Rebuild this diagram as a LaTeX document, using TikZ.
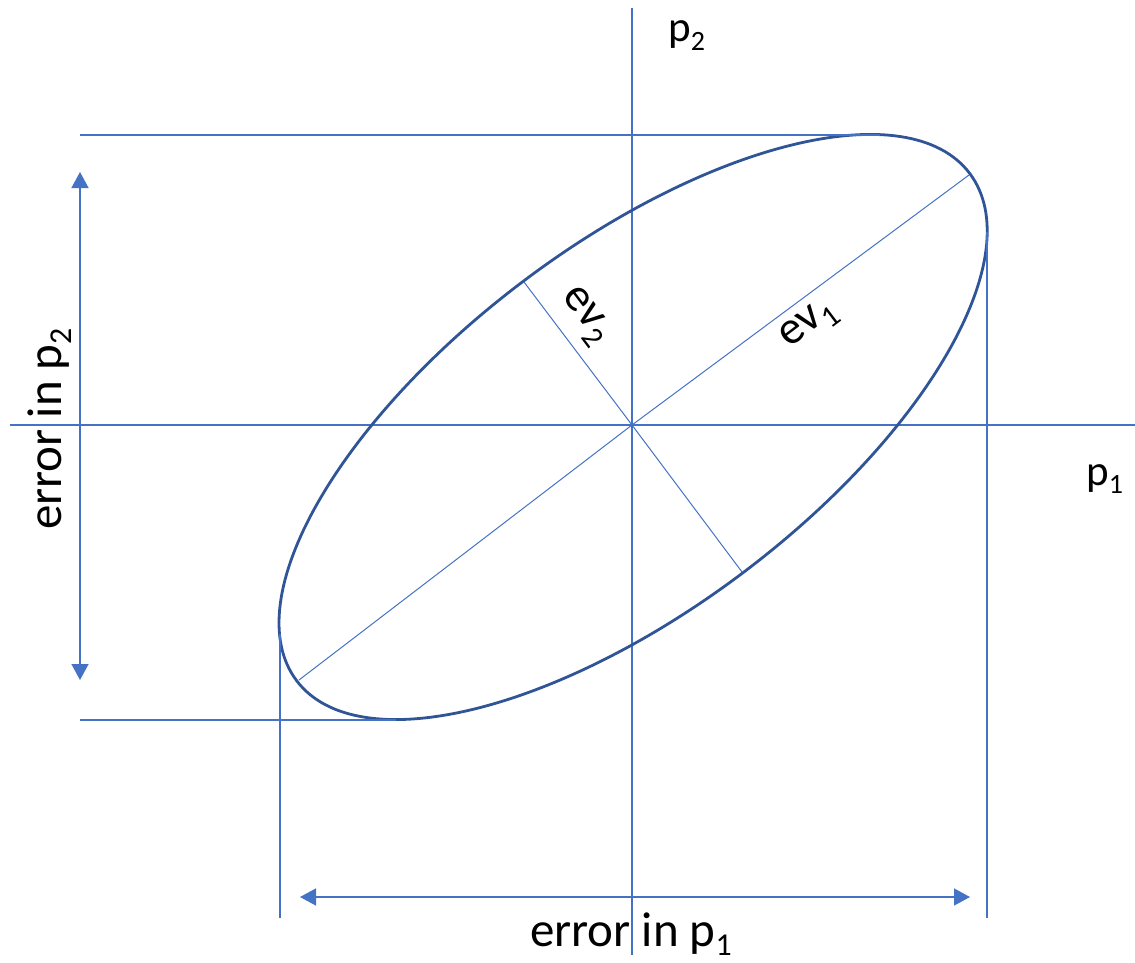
\documentclass[tikz,border=0pt]{standalone}
\usepackage{fontspec}
\usepackage{graphicx}
\setmainfont{Carlito}
\usetikzlibrary{arrows.meta}
\definecolor{axisblue}{HTML}{4472C4}
\definecolor{ellblue}{HTML}{2F5597}
\newcommand\sbs[1]{\raisebox{-0.2em}{\scalebox{0.65}{#1}}}
\begin{document}
\begin{tikzpicture}[x=1pt,y=-1pt,
  axis/.style={draw=axisblue,line width=1.4pt},
  ell/.style={draw=ellblue,line width=2.8pt},
  dimarrow/.style={axis,{Triangle[width=17pt,length=16pt]}-{Triangle[width=17pt,length=16pt]}},
  lbl/.style={inner sep=0pt,text=black}]
\useasboundingbox (0,0) rectangle (1135,963);
% axes
\coordinate (vtop) at (632,8);
\coordinate (vbot) at (632,955);
\coordinate (hl) at (10,425);
\coordinate (hr) at (1135,425);
\coordinate (o) at (632,425);
\coordinate (c) at (633,427);
\draw[axis] (vtop) -- (vbot);
\draw[axis] (hl) -- (hr);
% ellipse
\draw[ell,rotate around={37:(c)}] (c) ellipse [x radius=421.4pt, y radius=182.5pt];
% axes of ellipse
\coordinate (maj1) at (969,175);
\coordinate (maj2) at (299,680);
\coordinate (min1) at (524,282);
\coordinate (min2) at (742,572);
\draw[axis,line width=1pt] (maj2) -- (o) -- (maj1);
\draw[axis,line width=1pt] (min1) -- (o) -- (min2);
% tangent lines
\coordinate (t1a) at (80,135);
\coordinate (t1b) at (880,135);
\coordinate (t2a) at (80,720);
\coordinate (t2b) at (396,720);
\coordinate (t3a) at (987,232);
\coordinate (t3b) at (987,918);
\coordinate (t4a) at (280,634);
\coordinate (t4b) at (280,918);
\draw[axis] (t1a) -- (t1b);
\draw[axis] (t2a) -- (t2b);
\draw[axis] (t3a) -- (t3b);
\draw[axis] (t4a) -- (t4b);
% dimension arrows
\coordinate (va) at (80,172);
\coordinate (vb) at (80,680);
\coordinate (ha) at (300,897);
\coordinate (hb) at (970,897);
\draw[dimarrow] (va) -- (vb);
\draw[dimarrow] (ha) -- (hb);
% labels
\node[lbl,anchor=base west,font=\fontsize{43}{43}\selectfont] (lp2) at (668,42) {p\sbs{2}};
\node[lbl,anchor=base west,font=\fontsize{43}{43}\selectfont] (lp1) at (1086,485) {p\sbs{1}};
\node[lbl,anchor=base,font=\fontsize{49}{49}\selectfont] (le1) at (631,946) {error in p\sbs{1}};
\node[lbl,rotate=90,font=\fontsize{49}{49}\selectfont] (le2) at (50,429) {error in p\sbs{2}};
\node[lbl,rotate=-53,font=\fontsize{47}{47}\selectfont] (lev2) at (585,316) {ev\sbs{2}};
\node[lbl,rotate=37,font=\fontsize{47}{47}\selectfont] (lev1) at (809,325) {ev\sbs{1}};
\end{tikzpicture}
\end{document}
